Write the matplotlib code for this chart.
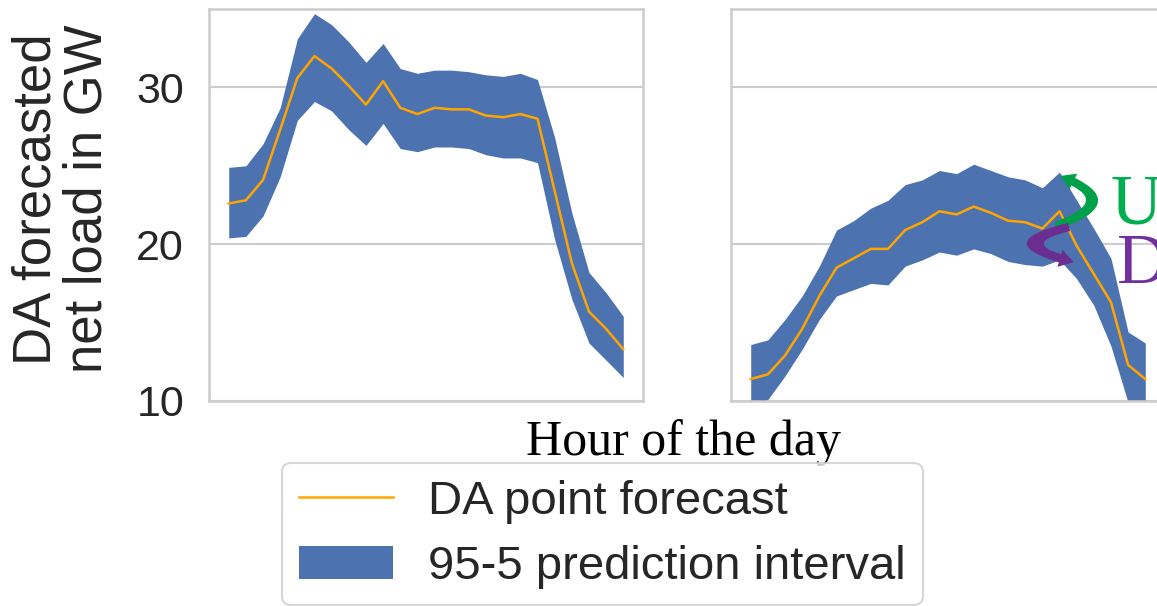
import numpy as np
import matplotlib.pyplot as plt
from matplotlib.lines import Line2D
from matplotlib.patches import Patch, FancyArrowPatch
from matplotlib.path import Path

plt.rcParams['font.family'] = ['Liberation Sans', 'DejaVu Sans']

hours = np.arange(24)

# left day: DA point forecast and 95-5 band (GW)
left_mid = [22.6, 22.8, 24.1, 27.3, 30.6, 32.0, 31.2, 30.1, 28.9, 30.4, 28.7, 28.3,
            28.7, 28.6, 28.6, 28.2, 28.1, 28.3, 28.0, 23.4, 18.8, 15.7, 14.6, 13.3]
left_hi = [24.9, 25.0, 26.4, 28.7, 33.1, 34.7, 34.0, 32.9, 31.6, 32.8, 31.2, 30.9,
           31.1, 31.1, 31.0, 30.8, 30.7, 30.9, 30.5, 26.8, 22.0, 18.2, 16.9, 15.4]
left_lo = [20.4, 20.5, 21.8, 24.3, 27.9, 29.1, 28.5, 27.3, 26.3, 27.7, 26.1, 25.9,
           26.2, 26.2, 26.1, 25.7, 25.5, 25.5, 25.2, 20.3, 16.5, 13.7, 12.6, 11.5]

# right day
right_mid = [11.4, 11.7, 12.9, 14.6, 16.7, 18.5, 19.1, 19.7, 19.7, 20.9, 21.4, 22.1,
             21.9, 22.4, 22.0, 21.5, 21.4, 21.0, 22.1, 19.9, 18.1, 16.3, 12.3, 11.4]
right_hi = [13.6, 13.9, 15.2, 16.7, 18.6, 20.9, 21.5, 22.3, 22.8, 23.8, 24.1, 24.7,
            24.5, 25.1, 24.7, 24.3, 24.1, 23.6, 24.6, 22.8, 21.0, 19.1, 14.4, 13.7]
right_lo = [9.7, 10.1, 11.6, 13.3, 15.2, 16.7, 17.1, 17.5, 17.4, 18.6, 19.0, 19.5,
            19.3, 19.7, 19.4, 18.9, 18.7, 18.6, 19.0, 17.8, 16.1, 13.5, 9.9, 9.0]

yticks = [10, 20, 30]

band_color = '#4C72B0'
line_color = '#FFA500'
grid_color = '#cccccc'

W, H = 1157, 606
fig = plt.figure(figsize=(W / 100, H / 100), dpi=100)


def px(x, y):
    # pixel position (from top-left) -> figure fraction
    return x / W, 1 - y / H


ax1 = fig.add_axes([209 / W, 1 - 401 / H, 434 / W, 392 / H])
ax2 = fig.add_axes([731 / W, 1 - 401 / H, 434 / W, 392 / H], sharey=ax1)

for ax, mid, lo, hi in [(ax1, left_mid, left_lo, left_hi), (ax2, right_mid, right_lo, right_hi)]:
    ax.fill_between(hours, lo, hi, color=band_color, lw=0)
    ax.plot(hours, mid, color=line_color, lw=1.8)
    ax.set_xticks([])
    ax.set_ylim(10, 35)
    ax.set_yticks(yticks)
    ax.grid(axis='y', color=grid_color, lw=1.5)
    ax.set_axisbelow(True)
    for s in ax.spines.values():
        s.set_color(grid_color)
        s.set_linewidth(1.8)
    ax.tick_params(axis='y', length=0, pad=18, labelsize=31, labelcolor='#262626')

ax2.tick_params(axis='y', labelleft=False)

fig.text(62 / W, 1 - 199 / H, 'DA forecasted\nnet load in GW', rotation=90,
         ha='center', va='center', ma='center', fontsize=38, color='#262626',
         linespacing=1.05)

fig.text(*px(684, 455), 'Hour of the day', ha='center', va='baseline',
         fontsize=36, family='Liberation Serif', color='black')

# Up / Down annotation on the right day
fig.text(*px(1110, 224), 'Up', ha='left', va='baseline', fontsize=51,
         family='Liberation Serif', color='#00B050')
fig.text(*px(1117, 283), 'Down', ha='left', va='baseline', fontsize=51,
         family='Liberation Serif', color='#7030A0')

curve = [Path.MOVETO, Path.CURVE3, Path.CURVE3]
up_path = Path([px(1056, 226), px(1126, 201), px(1060, 176)], curve)
down_path = Path([px(1069, 227), px(999, 244), px(1074, 262)], curve)
style = 'simple,head_length=1.3,head_width=1.6,tail_width=0.75'
fig.add_artist(FancyArrowPatch(path=up_path, transform=fig.transFigure,
                               arrowstyle=style, mutation_scale=8, color='#00A04A', lw=0))
fig.add_artist(FancyArrowPatch(path=down_path, transform=fig.transFigure,
                               arrowstyle=style, mutation_scale=8, color='#6B2D8F', lw=0))

handles = [Line2D([], [], color=line_color, lw=1.8),
           Patch(facecolor=band_color, edgecolor='none')]
leg = fig.legend(handles, ['DA point forecast', '95-5 prediction interval'],
                 loc='upper left', bbox_to_anchor=px(282, 463),
                 bbox_transform=fig.transFigure, borderaxespad=0,
                 fontsize=34, frameon=True, fancybox=True, handlelength=2.0,
                 handletextpad=0.75, labelspacing=0.45, borderpad=0.35)
leg.get_frame().set_edgecolor(grid_color)
leg.get_frame().set_linewidth(1.5)
for t in leg.get_texts():
    t.set_color('#262626')

fig.savefig('out.png', dpi=100)
